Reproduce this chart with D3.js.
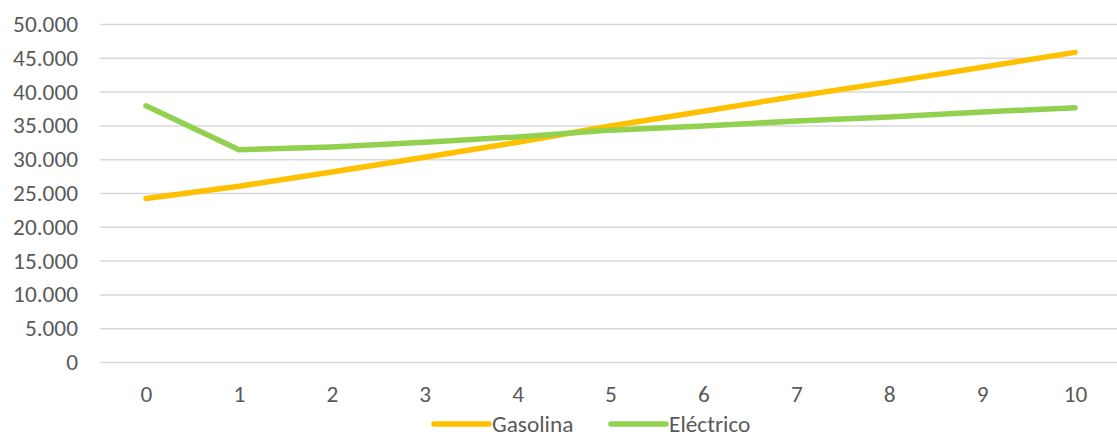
<!DOCTYPE html>
<html><head><meta charset="utf-8">
<script src="https://cdn.jsdelivr.net/npm/d3@7"></script>
<style>body{margin:0;background:#fff}svg{display:block}text{font-family:"Carlito","Open Sans",sans-serif;fill:#595959}</style>
</head><body><svg id="c" width="1117" height="439"></svg>
<script>
const categories = ["0","1","2","3","4","5","6","7","8","9","10"];
const gasolina = [24200,26000,28100,30300,32500,34900,37100,39300,41400,43600,45800];
const electrico = [37900,31400,31800,32500,33300,34300,34900,35650,36250,37000,37600];
const yTicks = [0,5000,10000,15000,20000,25000,30000,35000,40000,45000,50000];
const seriesNames = ["Gasolina","Eléctrico"];
const colors = ["#FFC000","#92D050"];

const svg = d3.select("#c");
const x = d3.scalePoint().domain(categories).range([146,1075]);
const y = d3.scaleLinear().domain([0,50000]).range([362,24]);
const fmt = v => d3.format(",")(v).replace(/,/g,".");
const fs = 23.3;

const yAxis = svg.append("g").attr("transform","translate(100,0)")
  .call(d3.axisLeft(y).tickValues(yTicks).tickSize(-1017).tickFormat(fmt).tickPadding(22));
yAxis.select(".domain").remove();
yAxis.selectAll(".tick line").attr("stroke","#d9d9d9").attr("stroke-width",1.5);
yAxis.selectAll(".tick text").attr("font-size",fs).attr("fill","#595959");

const xAxis = svg.append("g").attr("transform","translate(0,362)")
  .call(d3.axisBottom(x).tickSize(0).tickPadding(23));
xAxis.select(".domain").remove();
xAxis.selectAll(".tick text").attr("font-size",fs).attr("fill","#595959");

const line = d3.line().x((d,i)=>x(categories[i])).y(d=>y(d));
[gasolina, electrico].forEach((s,k)=>{
  svg.append("path").datum(s).attr("d",line).attr("fill","none")
    .attr("stroke",colors[k]).attr("stroke-width",5.5)
    .attr("stroke-linecap","round").attr("stroke-linejoin","round");
});

const legendX = [434, 611];
seriesNames.forEach((n,k)=>{
  const g = svg.append("g").attr("transform",`translate(${legendX[k]},424)`);
  g.append("line").attr("x1",0).attr("x2",55).attr("stroke",colors[k])
    .attr("stroke-width",5.5).attr("stroke-linecap","round");
  g.append("text").attr("x",58).attr("y",8).attr("font-size",fs).text(n);
});
</script></body></html>
